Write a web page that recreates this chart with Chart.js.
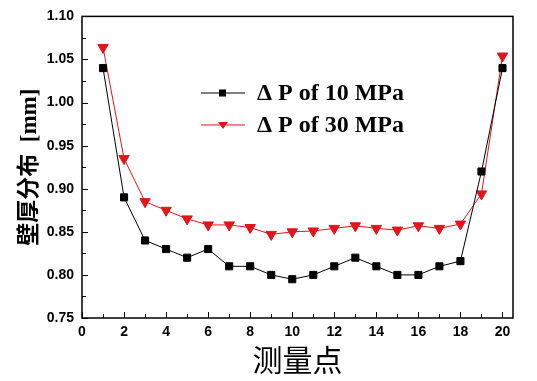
<!DOCTYPE html>
<html>
<head>
<meta charset="utf-8">
<script src="https://cdn.jsdelivr.net/npm/chart.js@4"></script>
<style>
  html,body{margin:0;padding:0;background:#fff;}
  #wrap{width:537px;height:381px;}
</style>
</head>
<body>
<div id="wrap"><canvas id="c"></canvas></div>
<script>
// measuring points
const points=[1,2,3,4,5,6,7,8,9,10,11,12,13,14,15,16,17,18,19,20];
const thick10=[1.040,0.890,0.840,0.830,0.820,0.830,0.810,0.810,0.800,0.795,0.800,0.810,0.820,0.810,0.800,0.800,0.810,0.816,0.920,1.040];
const thick30=[1.064,0.935,0.885,0.875,0.865,0.858,0.858,0.855,0.847,0.850,0.851,0.854,0.857,0.854,0.852,0.857,0.854,0.859,0.894,1.054];
const seriesNames=["\u0394 P of 10 MPa","\u0394 P of 30 MPa"];
const xTicks=[0,2,4,6,8,10,12,14,16,18,20];
const yTicks=[0.75,0.80,0.85,0.90,0.95,1.00,1.05,1.10];

const red='#e3141c';

// frame + inward ticks + legend inside the plot
const framePlugin={
  id:'frame',
  afterDraw(chart){
    const ctx=chart.ctx, a=chart.chartArea;
    const xs=chart.scales.x, ys=chart.scales.y;
    ctx.save();
    ctx.strokeStyle='#000';
    ctx.lineWidth=1.5;
    ctx.strokeRect(a.left,a.top,a.right-a.left,a.bottom-a.top);
    ctx.lineWidth=1;
    ctx.beginPath();
    for(let v=0;v<=20;v++){
      const px=Math.round(xs.getPixelForValue(v))+0.5;
      const len=v%2===0?6:4;
      ctx.moveTo(px,a.bottom);ctx.lineTo(px,a.bottom-len);
    }
    for(let i=0;i<yTicks.length;i++){
      const py=Math.round(ys.getPixelForValue(yTicks[i]))+0.5;
      ctx.moveTo(a.left,py);ctx.lineTo(a.left+6,py);
      if(i<yTicks.length-1){
        const pm=Math.round(ys.getPixelForValue(yTicks[i]+0.025))+0.5;
        ctx.moveTo(a.left,pm);ctx.lineTo(a.left+4,pm);
      }
    }
    ctx.stroke();

    // legend
    const rows=[93,125];
    chart.data.datasets.forEach((ds,i)=>{
      const y=rows[i];
      ctx.strokeStyle=ds.borderColor;
      ctx.lineWidth=1;
      ctx.beginPath();ctx.moveTo(201,y);ctx.lineTo(245,y);ctx.stroke();
      ctx.fillStyle=ds.backgroundColor;
      if(i===0){
        ctx.fillRect(219,y-3.5,7,7);
      }else{
        ctx.beginPath();ctx.moveTo(218,y-3);ctx.lineTo(228,y-3);ctx.lineTo(223,y+4);ctx.closePath();ctx.fill();
      }
      ctx.fillStyle='#000';
      ctx.font='bold 24px "Liberation Serif"';
      ctx.textBaseline='middle';
      ctx.textAlign='left';
      ctx.fillText(ds.label,257,y+1);
    });
    ctx.restore();
  }
};

new Chart(document.getElementById('c'),{
  type:'line',
  data:{
    datasets:[
      {label:seriesNames[0],data:points.map((p,i)=>({x:p,y:thick10[i]})),
       borderColor:'#000',backgroundColor:'#000',borderWidth:1,
       pointStyle:'rect',pointRadius:5,pointHoverRadius:5},
      {label:seriesNames[1],data:points.map((p,i)=>({x:p,y:thick30[i]})),
       borderColor:red,backgroundColor:red,borderWidth:1,
       pointStyle:'triangle',pointRotation:180,pointRadius:6,pointHoverRadius:6}
    ]
  },
  options:{
    responsive:true,
    maintainAspectRatio:false,
    animation:false,
    layout:{padding:{left:0,right:24,top:13,bottom:0}},
    plugins:{legend:{display:false},tooltip:{enabled:false}},
    scales:{
      x:{
        type:'linear',min:0,max:20.5,
        afterBuildTicks(s){s.ticks=xTicks.map(v=>({value:v}));},
        afterFit(s){s.height=63;},
        grid:{display:false,drawTicks:false},
        border:{display:false},
        ticks:{color:'#000',padding:6,font:{family:'"Liberation Sans"',size:14,weight:'bold'},maxRotation:0,autoSkip:false},
        title:{display:true,text:'测量点',color:'#000',font:{family:'"Liberation Serif","Noto Sans CJK SC"',size:30},padding:{top:2,bottom:0}}
      },
      y:{
        min:0.75,max:1.10,
        afterBuildTicks(s){s.ticks=yTicks.map(v=>({value:v}));},
        afterFit(s){s.width=82;},
        grid:{display:false,drawTicks:false},
        border:{display:false},
        ticks:{color:'#000',padding:8,font:{family:'"Liberation Sans"',size:14,weight:'bold'},callback:v=>v.toFixed(2)},
        title:{display:true,text:'壁厚分布  [mm]',color:'#000',font:{family:'"Liberation Serif","Noto Sans CJK SC"',size:23,weight:'bold'},padding:{top:16,bottom:0}}
      }
    }
  },
  plugins:[framePlugin]
});
</script>
</body>
</html>
